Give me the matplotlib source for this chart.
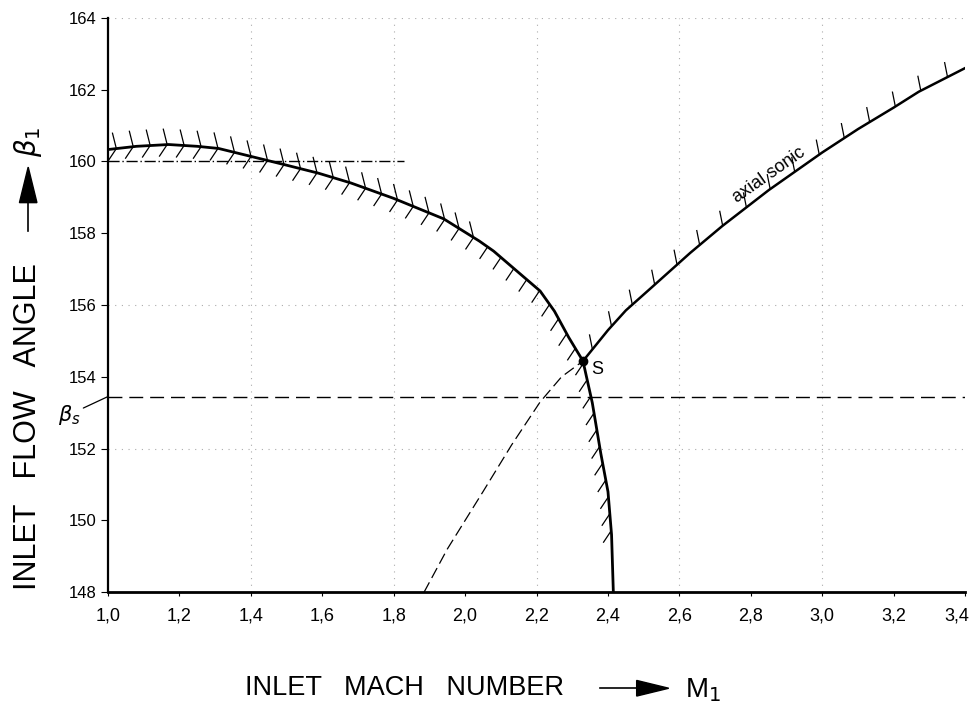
import numpy as np
import matplotlib.pyplot as plt
from matplotlib.collections import LineCollection
from matplotlib.transforms import ScaledTranslation

plt.rcParams['font.family'] = ['Liberation Sans Narrow', 'Liberation Sans', 'DejaVu Sans']
plt.rcParams['mathtext.fontset'] = 'dejavusans'

# choking limit curve (inlet Mach number, inlet flow angle in deg)
choke_m = [1.00, 1.08, 1.17, 1.25, 1.31, 1.40, 1.49, 1.59, 1.68, 1.80, 1.94, 2.04,
           2.08, 2.21, 2.25, 2.29, 2.33, 2.356, 2.38, 2.40, 2.41, 2.415]
choke_b = [160.33, 160.42, 160.47, 160.42, 160.36, 160.14, 159.92, 159.67, 159.40, 158.97,
           158.40, 157.78, 157.50, 156.39, 155.83, 155.10, 154.44, 153.28, 151.86, 150.80,
           149.60, 148.00]

# axial sonic line, starting at point S
sonic_m = [2.33, 2.40, 2.45, 2.52, 2.63, 2.72, 2.85, 3.00, 3.10, 3.20, 3.27, 3.40]
sonic_b = [154.44, 155.30, 155.85, 156.47, 157.45, 158.20, 159.20, 160.25, 160.90, 161.50,
           161.94, 162.60]

# dashed branch running into S
branch_m = [1.885, 1.95, 2.05, 2.13, 2.21, 2.27, 2.33]
branch_b = [148.0, 149.2, 150.8, 152.1, 153.3, 154.0, 154.44]

s_point = (2.33, 154.44)
beta_s = 153.45
level_160 = (1.0, 1.83, 160.0)

x_ticks = [1.0, 1.2, 1.4, 1.6, 1.8, 2.0, 2.2, 2.4, 2.6, 2.8, 3.0, 3.2, 3.4]
x_labels = ['1,0', '1,2', '1,4', '1,6', '1,8', '2,0', '2,2', '2,4', '2,6', '2,8', '3,0', '3,2', '3,4']
y_ticks = [148, 150, 152, 154, 156, 158, 160, 162, 164]
grid_x = [1.4, 1.8, 2.2, 2.6, 3.0]
grid_y = [152, 156, 164]


def hatch(ax, xs, ys, step, vec, **kw):
    # short strokes along a curve, spaced and sized in pixels
    pts = ax.transData.transform(np.column_stack([xs, ys]))
    seg = np.hypot(*np.diff(pts, axis=0).T)
    s = np.concatenate([[0], np.cumsum(seg)])
    ss = np.arange(step / 2, s[-1], step)
    px = np.interp(ss, s, pts[:, 0])
    py = np.interp(ss, s, pts[:, 1])
    inv = ax.transData.inverted()
    lines = []
    for x, y in zip(px, py):
        a, b = inv.transform([(x, y), (x + vec[0], y + vec[1])])
        lines.append([a, b])
    ax.add_collection(LineCollection(lines, **kw))


fig = plt.figure(figsize=(9.72, 7.11), dpi=100)
ax = fig.add_axes([0.111, 0.167, 0.882, 0.808])
ax.set_xlim(1.0, 3.4)
ax.set_ylim(148, 164)

for s in ['top', 'right']:
    ax.spines[s].set_visible(False)
ax.spines['left'].set_linewidth(1.6)
ax.spines['bottom'].set_linewidth(2.0)

ax.set_xticks(x_ticks)
ax.set_xticklabels(x_labels, fontsize=13)
ax.set_yticks(y_ticks)
ax.set_yticklabels([str(v) for v in y_ticks], fontsize=12)
ax.tick_params(axis='x', length=3, width=0.8, pad=8)
ax.tick_params(axis='y', length=5, width=0.8, pad=3)
# keep the last Mach label inside the figure
last = ax.get_xticklabels()[-1]
last.set_transform(last.get_transform() + ScaledTranslation(-6 / 72, 0, fig.dpi_scale_trans))

# faint drafting grid
for gx in grid_x:
    ax.axvline(gx, color='#888888', lw=0.8, ls=(0, (1, 5)), alpha=0.7)
for gy in grid_y:
    ax.axhline(gy, color='#888888', lw=0.8, ls=(0, (1, 5)), alpha=0.7)

ax.plot([level_160[0], level_160[1]], [level_160[2]] * 2, color='black', lw=1.0,
        ls=(0, (8, 2, 1, 2)))
ax.axhline(beta_s, color='black', lw=1.0, ls=(0, (10, 5)))

ax.plot(choke_m, choke_b, color='black', lw=2.0)
ax.plot(sonic_m, sonic_b, color='black', lw=1.8)
ax.plot(branch_m, branch_b, color='black', lw=0.9, ls=(0, (9, 4)))

# hatching on the limit lines
cm = np.array(choke_m)
cb = np.array(choke_b)
inner = cb > 149.5
hatch(ax, cm[inner], cb[inner], 17, (-8, -12), colors='black', linewidths=0.9)
upper = cm <= 2.05
hatch(ax, cm[upper], cb[upper], 17, (-4, 16), colors='black', linewidths=0.9)
hatch(ax, sonic_m, sonic_b, 30, (-3, 15), colors='black', linewidths=0.9)

ax.plot(*s_point, 'o', color='black', ms=6)
ax.annotate('S', s_point, xytext=(6, -6), textcoords='offset points', fontsize=13,
            va='center')
ax.text(2.85, 159.62, 'axial sonic', rotation=35, fontsize=13, ha='center', va='center',
        rotation_mode='anchor')

# beta_s marker at the axis
ax.annotate(r'$\beta_s$', xy=(1.0, beta_s), xytext=(-36, -13), textcoords='offset points',
            fontsize=15, va='center', annotation_clip=False,
            arrowprops=dict(arrowstyle='-', lw=0.9, color='black', shrinkA=0, shrinkB=0))

# axis titles with arrows
fig.text(0.252, 0.032, 'INLET   MACH   NUMBER', fontsize=19.5, va='center', ha='left')
fig.add_artist(plt.Line2D([0.617, 0.66], [0.032, 0.032], color='black', lw=1.2))
fig.patches.append(plt.Polygon([[0.655, 0.043], [0.655, 0.021], [0.688, 0.032]],
                               closed=True, color='black', transform=fig.transFigure))
fig.text(0.705, 0.030, r'M$_1$', fontsize=20, va='center', ha='left')

fig.text(0.029, 0.17, 'INLET   FLOW   ANGLE', fontsize=22, rotation=90, va='bottom',
         ha='center')
fig.add_artist(plt.Line2D([0.029, 0.029], [0.675, 0.725], color='black', lw=1.2))
fig.patches.append(plt.Polygon([[0.020, 0.715], [0.038, 0.715], [0.029, 0.765]],
                               closed=True, color='black', transform=fig.transFigure))
fig.text(0.029, 0.80, r'$\beta_1$', fontsize=20, rotation=90, va='center', ha='center')

fig.savefig('out.png', dpi=100)
